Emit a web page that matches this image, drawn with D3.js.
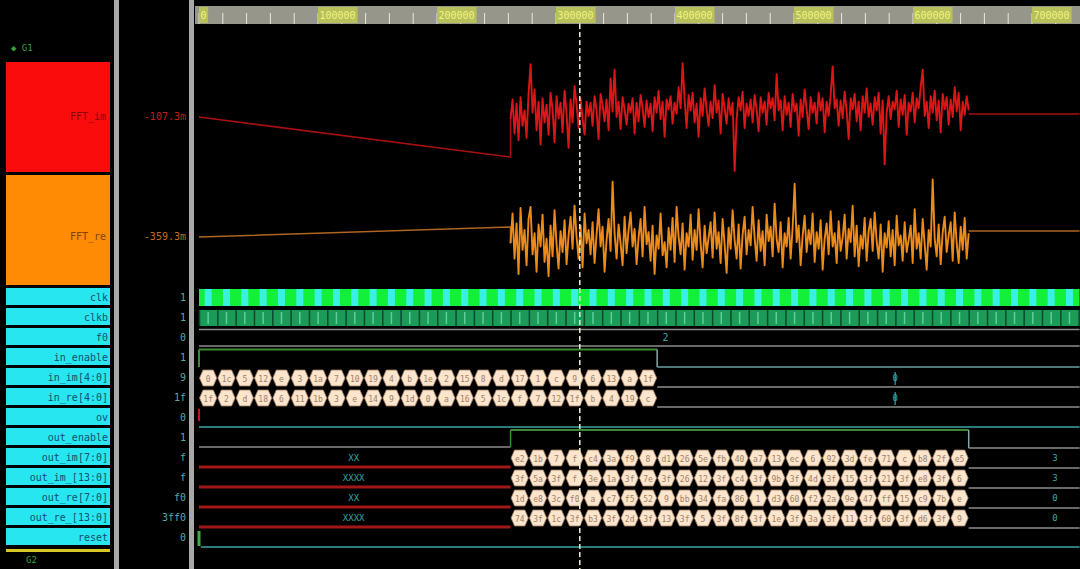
<!DOCTYPE html>
<html>
<head>
<meta charset="utf-8">
<script src="https://cdn.jsdelivr.net/npm/d3@7"></script>
<style>
  html, body { margin: 0; padding: 0; background: #000; overflow: hidden; }
  text { font-family: "DejaVu Sans Mono", "Liberation Mono", monospace; }
</style>
</head>
<body>
<svg id="wave" width="1080" height="569"></svg>
<script>
// ---------- time ruler ----------
const rulerTicks  = [0, 100000, 200000, 300000, 400000, 500000, 600000, 700000];
const rulerLabels = ["0", "100000", "200000", "300000", "400000", "500000", "600000", "700000"];
const timeEnd = 740000;
const clkPeriod = 15400;
const cursorTime = 320000;

// ---------- analog group (G1) ----------
const analogNames  = ["FFT_im", "FFT_re"];
const analogValues = ["-107.3m", "-359.3m"];
const noiseStart = 261800;   // out_enable rises
const noiseEnd   = 646800;   // out_enable falls

// FFT_im (mV): linear ramp before the output burst, noisy burst, settled value after
const fftImRamp = [-100, -464];
const fftImTail = -73;
const fftImNoise = [
  -120, 60, -250, 20, -310, 80, -180, -40, -290, 110,
  380, -60, 150, -220, 40, -350, 70, -150, 10, -260,
  120, -30, -330, 90, -110, 30, -240, 140, -70, -380,
  60, -150, 180, 20, -200, 70, -120, -260, 40, -90,
  30, -180, 90, -40, -300, 110, 10, -140, 60, -220,
  250, -50, 330, -100, 40, -210, 80, -30, -170, 20,
  -60, 70, -250, 30, -140, 100, -20, -190, 50, -100,
  20, -230, 80, -60, 140, -120, 40, -280, 60, -30,
  90, -160, 30, -70, 170, -20, 390, 60, -200, 100,
  -40, 120, -150, 20, -280, 70, -90, 160, -30, -180,
  40, -110, 190, -60, 50, -250, 110, -20, -160, 70,
  -80, 30, -590, -120, 80, -40, 130, -200, 20, -90,
  60, -150, 100, -30, -230, 80, -60, 40, -170, 120,
  -20, 70, -130, 290, -40, 50, -220, 90, -80, 30,
  -190, 110, -50, 20, -270, 60, -100, 150, -30, -210,
  80, -60, 30, -160, 120, -40, 70, -240, 40, -90,
  100, 360, -20, 60, -180, 50, -110, 130, -50, -300,
  70, -30, 110, -140, 40, -220, 90, -60, 160, -100,
  20, -170, 80, -40, 120, -250, 50, -530, -60, 90,
  -120, 40, -30, 140, -190, 60, -80, 100, -260, 30,
  -50, 120, -150, 70, -20, 170, 330, -90, 40, -200,
  90, -60, 140, -130, 50, -240, 110, -30, 80, -170,
  60, -100, 170, -50, 120, -220, 40, -80, 90, -40
];

// FFT_re (mV)
const fftReRamp = [-364, -273];
const fftReTail = -309;
const fftReNoise = [
  -420, -150, -560, -240, -700, -100, -480, -300, -620, -200,
  -90, -520, -330, -680, -250, -450, -160, -590, -380, -720,
  -260, -540, -120, -430, -650, -310, -500, -210, -610, -350,
  -180, -470, -80, -360, -560, -260, -640, -150, -420, -300,
  -520, -230, -600, -340, -110, -450, -270, -680, -390, -200,
  -490, 140, -330, -560, -250, -420, -620, -180, -510, -300,
  -140, -450, -290, -610, -370, -200, -540, -90, -430, -320,
  -580, -260, -700, -350, -470, -150, -530, -410, -640, -280,
  -480, -190, -590, -90, -360, -520, -240, -660, -330, -450,
  -160, -570, -300, -480, -110, -420, -640, -260, -510, -370,
  -230, -550, -140, -470, -320, -600, -200, -430, -690, -280,
  -470, -120, -390, -560, -250, -650, -340, -180, -520, -300,
  -440, -90, -370, -580, -210, -490, -310, -620, -160, -400,
  -270, -540, -60, -380, -500, -230, -640, -330, -450, -190,
  -560, -280, 120, -410, -260, -620, -350, -170, -500, -300,
  -430, -150, -590, -320, -470, -210, -660, -380, -240, -520,
  -130, -450, -330, -600, -220, -490, -370, -160, -560, -290,
  -410, -80, -540, -260, -630, -350, -470, -190, -580, -310,
  -200, -490, -140, -400, -560, -250, -680, -330, -460, -220,
  -540, -300, -620, -170, -440, -350, -580, -230, -500, -390,
  -260, -600, -110, -470, -330, -560, -200, -430, -660, -300,
  -450, 160, -380, -540, -250, -610, -320, -180, -500, -350,
  -230, -580, -140, -420, -600, -270, -480, -190, -560, -330
];

// ---------- digital signals ----------
const digitalNames  = ["clk", "clkb", "f0", "in_enable", "in_im[4:0]", "in_re[4:0]", "ov",
                       "out_enable", "out_im[7:0]", "out_im_[13:0]", "out_re[7:0]", "out_re_[13:0]", "reset"];
const digitalValues = ["1", "1", "0", "1", "9", "1f", "0", "1", "f", "f", "f0", "3ff0", "0"];

const inEnableFall   = 385000;
const f0MarkTime     = 392000;
const f0MarkValue    = "2";
const inIdleTime     = 585000;
const inIdleValues   = ["0", "0"];
const outIdleValues  = ["3", "3", "0", "0"];
const unknownTime    = 130000;
const resetFall      = 1500;

// one value per clock while in_enable is high
const inImVals = ["0","1c","5","12","e","3","1a","7","10","19","4","b","1e","2","15","8","d","17","1","c","9","6","13","a","1f"];
const inReVals = ["1f","2","d","18","6","11","1b","3","e","14","9","1d","0","a","16","5","1c","f","7","12","1f","b","4","19","c"];

// one value per clock while out_enable is high
const outImVals  = ["e2","1b","7","f","c4","3a","f9","8","d1","26","5e","fb","40","a7","13","ec","6","92","3d","fe","71","c","b8","2f","e5"];
const outImWVals = ["3f12","5a","3ff7","f","3e4c","1a3","3fb0","7e","3fd9","26f","12","3f88","c4","3fe1","9b","3f3a","4d","3ffc","150","3f67","21","3fa5","e8","3fc2","6"];
const outReVals  = ["1d","e8","3c","f0","a","c7","f5","52","9","bb","34","fa","86","1","d3","60","f2","2a","9e","47","ff","15","c9","7b","e"];
const outReWVals = ["74","3fa1","1c8","3ff0","b3","3f5e","2d","3fe9","130","3f0c","5","3fb7","8f","3ff2","1e4","3f49","3a","3fd0","117","3f82","60","3fec","d6","3f2b","9"];
const unknownLabels = ["XX", "XXXX", "XX", "XXXX"];

// ---------- drawing ----------
const svg = d3.select("#wave");
const W = 1080, H = 569;
svg.append("rect").attr("width", W).attr("height", H).attr("fill", "#000");

const x = d3.scaleLinear().domain([0, timeEnd]).range([199, 1079.6]);
const rowTop = i => 288 + 20 * i;
const rowH = 17;

// name panel
const names = svg.append("g");
names.append("text").attr("x", 11).attr("y", 51).attr("fill", "#3ca03c")
  .attr("font-size", 9).text("◆ G1");
names.append("rect").attr("x", 6).attr("y", 62).attr("width", 104).attr("height", 110).attr("fill", "#fb0c0c");
names.append("rect").attr("x", 6).attr("y", 175).attr("width", 104).attr("height", 110).attr("fill", "#ff8a04");
names.selectAll("text.an").data(analogNames).join("text").attr("class", "an")
  .attr("x", 106).attr("y", (d, i) => i === 0 ? 120 : 240)
  .attr("text-anchor", "end").attr("font-size", 10)
  .attr("fill", (d, i) => i === 0 ? "#7a0c0c" : "#7a4408").text(d => d);
names.selectAll("rect.dn").data(digitalNames).join("rect").attr("class", "dn")
  .attr("x", 6).attr("y", (d, i) => rowTop(i)).attr("width", 104).attr("height", rowH)
  .attr("fill", "#28e6f0");
names.selectAll("text.dn").data(digitalNames).join("text").attr("class", "dn")
  .attr("x", 108).attr("y", (d, i) => rowTop(i) + 13).attr("text-anchor", "end")
  .attr("font-size", 10).attr("fill", "#164e6c").text(d => d);
names.append("rect").attr("x", 6).attr("y", 549).attr("width", 104).attr("height", 3).attr("fill", "#d8c828");
names.append("text").attr("x", 26).attr("y", 563).attr("fill", "#3ca03c").attr("font-size", 9).text("G2");

// value column
const vals = svg.append("g");
vals.selectAll("text.av").data(analogValues).join("text").attr("class", "av")
  .attr("x", 186).attr("y", (d, i) => i === 0 ? 120 : 240).attr("text-anchor", "end")
  .attr("font-size", 10).attr("fill", (d, i) => i === 0 ? "#c41e1e" : "#c46e1e").text(d => d);
vals.selectAll("text.dv").data(digitalValues).join("text").attr("class", "dv")
  .attr("x", 186).attr("y", (d, i) => rowTop(i) + 13).attr("text-anchor", "end")
  .attr("font-size", 10).attr("fill", "#5aa8a8").text(d => d);

// column separators
svg.append("rect").attr("x", 114).attr("y", 0).attr("width", 5).attr("height", H).attr("fill", "#a8a8a8");
svg.append("rect").attr("x", 189).attr("y", 0).attr("width", 5).attr("height", H).attr("fill", "#a8a8a8");

// ruler
const ruler = svg.append("g");
ruler.append("rect").attr("x", 195).attr("y", 6).attr("width", W - 195).attr("height", 18).attr("fill", "#96968a");
const minor = d3.range(0, timeEnd, 20000);
ruler.selectAll("line.mn").data(minor).join("line").attr("class", "mn")
  .attr("x1", d => x(d)).attr("x2", d => x(d)).attr("y1", 13).attr("y2", 24)
  .attr("stroke", "#e8e8e0").attr("stroke-width", 1);
ruler.selectAll("rect.lb").data(rulerTicks).join("rect").attr("class", "lb")
  .attr("x", d => x(d)).attr("y", 7)
  .attr("width", (d, i) => rulerLabels[i].length * 6.1 + 3).attr("height", 16).attr("fill", "#b8c05c");
ruler.selectAll("text.lb").data(rulerTicks).join("text").attr("class", "lb")
  .attr("x", d => x(d) + 1.5).attr("y", 19).attr("font-size", 10).attr("fill", "#f0f47c")
  .text((d, i) => rulerLabels[i]);

// analog traces
const yIm = d3.scaleLinear().domain([-600, 400]).range([172, 62]);
const yRe = d3.scaleLinear().domain([-800, 200]).range([285, 175]);
const noiseT = (n) => d3.range(n).map(i => noiseStart + i * (noiseEnd - noiseStart) / (n - 1));

function drawAnalog(yScale, ramp, noise, tail, dim, bright) {
  const lineGen = d3.line().x(d => x(d[0])).y(d => yScale(d[1]));
  const tn = noiseT(noise.length);
  svg.append("path").attr("d", lineGen([[0, ramp[0]], [noiseStart, ramp[1]], [noiseStart, noise[0]]]))
    .attr("fill", "none").attr("stroke", dim).attr("stroke-width", 1.6);
  svg.append("path").attr("d", lineGen(noise.map((v, i) => [tn[i], v])))
    .attr("fill", "none").attr("stroke", bright).attr("stroke-width", 1.9).attr("stroke-linejoin", "round");
  svg.append("path").attr("d", lineGen([[noiseEnd, tail], [timeEnd, tail]]))
    .attr("fill", "none").attr("stroke", dim).attr("stroke-width", 1.6);
}
drawAnalog(yIm, fftImRamp, fftImNoise, fftImTail, "#a81010", "#dc1616");
drawAnalog(yRe, fftReRamp, fftReNoise, fftReTail, "#b06420", "#ec8a1a");

// digital waves
const wave = svg.append("g");
const cycles = d3.range(0, Math.ceil(timeEnd / clkPeriod));

// clk
wave.append("rect").attr("x", x(0)).attr("y", rowTop(0) + 1).attr("width", x(timeEnd) - x(0)).attr("height", 17).attr("fill", "#12f03a");
wave.selectAll("rect.ck").data(cycles).join("rect").attr("class", "ck")
  .attr("x", d => x(d * clkPeriod + clkPeriod / 2) - 3.5).attr("y", rowTop(0) + 1)
  .attr("width", 7).attr("height", 17).attr("fill", "#3af0e2");

// clkb
wave.append("rect").attr("x", x(0)).attr("y", rowTop(1) + 2).attr("width", x(timeEnd) - x(0)).attr("height", 16).attr("fill", "#1b9a58");
wave.selectAll("line.cb").data(cycles).join("line").attr("class", "cb")
  .attr("x1", d => x(d * clkPeriod) + 0.5).attr("x2", d => x(d * clkPeriod) + 0.5)
  .attr("y1", rowTop(1) + 2).attr("y2", rowTop(1) + 18).attr("stroke", "#0c4a2c").attr("stroke-width", 1.5);
wave.selectAll("line.cb2").data(cycles).join("line").attr("class", "cb2")
  .attr("x1", d => x(d * clkPeriod + clkPeriod / 2)).attr("x2", d => x(d * clkPeriod + clkPeriod / 2))
  .attr("y1", rowTop(1) + 4).attr("y2", rowTop(1) + 16).attr("stroke", "#5ccf9a").attr("stroke-width", 1.5);

function hline(y, t0, t1, color, w) {
  wave.append("line").attr("x1", x(t0)).attr("x2", x(t1)).attr("y1", y).attr("y2", y)
    .attr("stroke", color).attr("stroke-width", w || 1.5);
}
function vline(t, y0, y1, color, w) {
  wave.append("line").attr("x1", x(t)).attr("x2", x(t)).attr("y1", y0).attr("y2", y1)
    .attr("stroke", color).attr("stroke-width", w || 1.5);
}

// f0
hline(rowTop(2) + 1.5, 0, timeEnd, "#8c8c8c");
hline(rowTop(2) + 18, 0, timeEnd, "#8c8c8c");
wave.append("text").attr("x", x(f0MarkTime)).attr("y", rowTop(2) + 13).attr("text-anchor", "middle")
  .attr("font-size", 10).attr("fill", "#3aa6a6").text(f0MarkValue);

// in_enable
hline(rowTop(3) + 1.5, 0, inEnableFall, "#3c8a32", 2);
vline(0, rowTop(3) + 1.5, rowTop(3) + 19, "#3c8a32", 2);
vline(inEnableFall, rowTop(3) + 1.5, rowTop(3) + 19, "#8aa8a8", 1.5);
hline(rowTop(3) + 19, inEnableFall, timeEnd, "#6aa0a0", 1.5);

// bus cells
function busCells(row, start, vals) {
  const top = rowTop(row) + 2, bot = rowTop(row) + 18, mid = (top + bot) / 2;
  const g = wave.append("g");
  g.selectAll("path").data(vals).join("path")
    .attr("d", (d, i) => {
      const a = x(start + i * clkPeriod) + 0.5, b = x(start + (i + 1) * clkPeriod) - 0.5, c = 3.5;
      return `M${a},${mid}L${a + c},${top}L${b - c},${top}L${b},${mid}L${b - c},${bot}L${a + c},${bot}Z`;
    })
    .attr("fill", "#fbe5cc").attr("stroke", "#a07c60").attr("stroke-width", 0.8);
  g.selectAll("text").data(vals).join("text")
    .attr("x", (d, i) => x(start + (i + 0.5) * clkPeriod)).attr("y", mid + 3.5)
    .attr("text-anchor", "middle").attr("font-size", 8).attr("fill", "#a08068")
    .text(d => d.length > 2 ? d.slice(0, 2) : d);
}

// in_im / in_re
busCells(4, 0, inImVals);
busCells(5, 0, inReVals);
[4, 5].forEach((r, k) => {
  hline(rowTop(r) + 19, inEnableFall, timeEnd, "#8c8c8c");
  vline(inIdleTime, rowTop(r) + 4, rowTop(r) + 17, "#3aa6a6", 1.2);
  wave.append("text").attr("x", x(inIdleTime)).attr("y", rowTop(r) + 13).attr("text-anchor", "middle")
    .attr("font-size", 9).attr("fill", "#3aa6a6").text(inIdleValues[k]);
});

// ov
vline(0, rowTop(6) + 1, rowTop(6) + 13, "#c01818", 2);
hline(rowTop(6) + 19, 0, timeEnd, "#2c7a7a", 2);

// out_enable
hline(rowTop(7) + 19, 0, noiseStart, "#8c8c8c");
vline(noiseStart, rowTop(7) + 2, rowTop(7) + 19, "#3c8a32", 1.5);
hline(rowTop(7) + 2, noiseStart, noiseEnd, "#3c8a32", 2);
vline(noiseEnd, rowTop(7) + 2, rowTop(7) + 20, "#8aa8a8", 1.5);
hline(rowTop(7) + 20, noiseEnd, timeEnd, "#8c8c8c");

// out buses
const outBuses = [outImVals, outImWVals, outReVals, outReWVals];
outBuses.forEach((v, k) => {
  const r = 8 + k;
  hline(rowTop(r) + 19, 0, noiseStart, "#a01818", 3);
  wave.append("text").attr("x", x(unknownTime)).attr("y", rowTop(r) + 13)
    .attr("text-anchor", "middle").attr("font-size", 9).attr("fill", "#3aa6a6").text(unknownLabels[k]);
  busCells(r, noiseStart, v);
  hline(rowTop(r) + 20, noiseEnd, timeEnd, "#8c8c8c");
  wave.append("text").attr("x", 1055).attr("y", rowTop(r) + 13).attr("text-anchor", "middle")
    .attr("font-size", 9).attr("fill", "#3aa6a6").text(outIdleValues[k]);
});

// reset
vline(0, rowTop(12) + 3, rowTop(12) + 18, "#3cb03c", 3);
hline(rowTop(12) + 19, resetFall, timeEnd, "#2c7a7a", 2);

// cursor
svg.append("line").attr("x1", x(cursorTime)).attr("x2", x(cursorTime)).attr("y1", 24).attr("y2", H)
  .attr("stroke", "#f0f0d0").attr("stroke-width", 1.5).attr("stroke-dasharray", "5,3");
</script>
</body>
</html>
